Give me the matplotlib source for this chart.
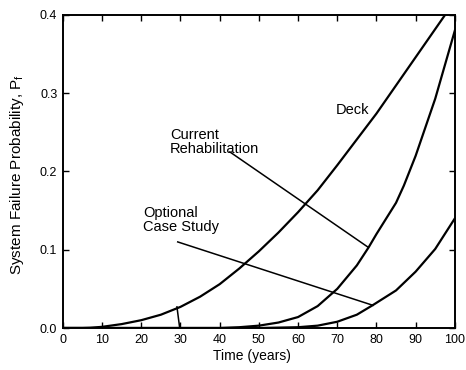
import matplotlib
matplotlib.use("Agg")
import matplotlib.pyplot as plt

plt.rcParams['font.family'] = ['Liberation Sans', 'DejaVu Sans']

# Data
deck_t = [0, 5, 7, 10, 15, 20, 25, 30, 35, 40, 45, 50, 55, 60, 65, 70, 75, 80, 85, 90, 95, 100]
deck_p = [0.0, 0.0, 0.0003, 0.0015, 0.005, 0.010, 0.017, 0.027, 0.040, 0.056, 0.076, 0.098, 0.122, 0.148, 0.176, 0.208, 0.241, 0.274, 0.310, 0.346, 0.382, 0.418]

curr_t = [0, 40, 45, 50, 55, 60, 65, 70, 75, 78, 80, 85, 87, 90, 95, 100]
curr_p = [0.0, 0.0, 0.001, 0.003, 0.007, 0.014, 0.028, 0.050, 0.080, 0.103, 0.120, 0.160, 0.182, 0.220, 0.293, 0.380]

opt_t = [0, 50, 55, 60, 65, 70, 75, 79, 85, 90, 95, 100]
opt_p = [0.0, 0.0, 0.0005, 0.001, 0.003, 0.008, 0.017, 0.029, 0.048, 0.072, 0.101, 0.140]

x_ticks = [0, 10, 20, 30, 40, 50, 60, 70, 80, 90, 100]
y_ticks = [0.0, 0.1, 0.2, 0.3, 0.4]

fig = plt.figure(figsize=(4.66, 3.70), dpi=100)
ax = fig.add_axes([0.135, 0.1135, 0.841, 0.846])

lw = 1.6
ax.plot(deck_t, deck_p, color='black', lw=lw)
ax.plot(curr_t, curr_p, color='black', lw=lw)
ax.plot(opt_t, opt_p, color='black', lw=lw)

# leader lines
ax.plot([42.6, 77.8], [0.225, 0.1035], color='black', lw=1.1)
ax.plot([29.3, 79.1], [0.110, 0.029], color='black', lw=1.1)
ax.plot([29.1, 29.8], [0.027, 0.0], color='black', lw=1.1)

ax.text(69.6, 0.279, 'Deck', fontsize=10.5, va='center', ha='left')
ax.text(27.3, 0.238, 'Current\nRehabilitation', fontsize=10.5, va='center', ha='left', linespacing=1.0)
ax.text(20.4, 0.138, 'Optional\nCase Study', fontsize=10.5, va='center', ha='left', linespacing=1.0)

ax.set_xlim(0, 100)
ax.set_ylim(0, 0.4)
ax.set_xticks(x_ticks)
ax.set_yticks(y_ticks)
ax.set_xticklabels([str(t) for t in x_ticks])
ax.set_yticklabels([f'{v:.1f}' for v in y_ticks])
ax.tick_params(direction='in', top=True, right=True, length=4, width=1.0, labelsize=9, pad=4)
for s in ax.spines.values():
    s.set_linewidth(1.4)

ax.set_xlabel('Time (years)', fontsize=10)
ax.set_ylabel('System Failure Probability, P$_\\mathregular{f}$', fontsize=11)
ax.xaxis.set_label_coords(0.482, -0.068)
ax.yaxis.set_label_coords(-0.094, 0.489)

fig.savefig('out.png', dpi=100)
